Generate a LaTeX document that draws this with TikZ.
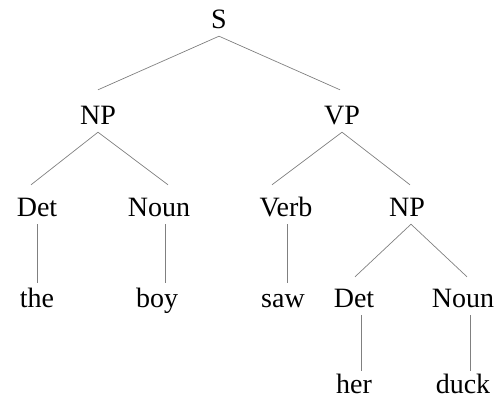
\documentclass[tikz,border=0pt]{standalone}
\usepackage{fontspec}
\setmainfont{Liberation Serif}
\begin{document}
\begin{tikzpicture}[x=1pt,y=-1pt,
  lab/.style={font=\fontsize{28}{30}\selectfont, inner sep=0pt, anchor=base, text height=20pt, text depth=8pt},
  edge/.style={draw=black!50, line width=0.7pt}]
\useasboundingbox (0,0) rectangle (500,407);
\node[lab] (S)    at (219,28)  {S};
\node[lab] (NP)   at (98,124)  {NP};
\node[lab] (VP)   at (342,124) {VP};
\node[lab] (Det)  at (37,216)  {Det};
\node[lab] (Noun) at (159,216) {Noun};
\node[lab] (Verb) at (286,216) {Verb};
\node[lab] (NPb)  at (407,216) {NP};
\node[lab] (the)  at (37,307)  {the};
\node[lab] (boy)  at (157,307) {boy};
\node[lab] (saw)  at (283,307) {saw};
\node[lab] (Detb) at (354,307) {Det};
\node[lab] (Nounb) at (463,307) {Noun};
\node[lab] (her)  at (354,393) {her};
\node[lab] (duck) at (463,393) {duck};
% branches
\draw[edge] (S.south) -- ([yshift=14pt]NP.north);
\draw[edge] (S.south) -- ([xshift=-2pt,yshift=14pt]VP.north);
\draw[edge] (NP.south) -- ([xshift=-6pt,yshift=11pt]Det.north);
\draw[edge] (NP.south) -- ([xshift=9pt,yshift=11pt]Noun.north);
\draw[edge] (VP.south) -- ([xshift=-14pt,yshift=11pt]Verb.north);
\draw[edge] (VP.south) -- ([xshift=3pt,yshift=11pt]NPb.north);
\draw[edge] ([xshift=4pt]NPb.south) -- ([xshift=1pt,yshift=10pt]Detb.north);
\draw[edge] ([xshift=4pt]NPb.south) -- ([xshift=4pt,yshift=10pt]Nounb.north);
% unary
\draw[edge] (Det.south) -- ([yshift=4pt]the.north);
\draw[edge] ([xshift=6pt]Noun.south) -- ([xshift=8pt,yshift=4pt]boy.north);
\draw[edge] ([xshift=1pt]Verb.south) -- ([xshift=4pt,yshift=4pt]saw.north);
\draw[edge] ([xshift=7pt]Detb.south) -- ([xshift=7pt,yshift=2pt]her.north);
\draw[edge] ([xshift=7pt]Nounb.south) -- ([xshift=7pt,yshift=2pt]duck.north);
\end{tikzpicture}
\end{document}
